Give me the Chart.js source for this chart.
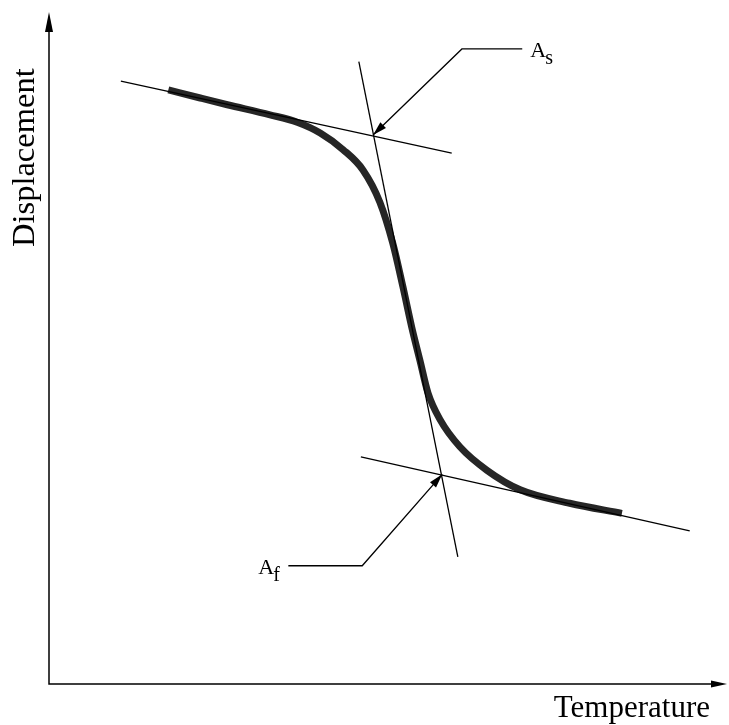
<!DOCTYPE html>
<html>
<head>
<meta charset="utf-8">
<title>Displacement vs Temperature</title>
<script src="https://cdn.jsdelivr.net/npm/chart.js@4.4.1/dist/chart.umd.min.js"></script>
<style>
  html, body { margin: 0; padding: 0; background: #fff; }
  #wrap { width: 729px; height: 725px; }
</style>
</head>
<body>
<div id="wrap"><canvas id="chart" width="729" height="725"></canvas></div>
<script>
// Axis ranges (arbitrary units, no ticks shown)
const tRange = [0, 100];
const dRange = [0, 100];

// Transformation curve: temperature / displacement
const curveT = [17.6, 22.3, 26.3, 32.6, 36.6, 40.0, 43.4, 46.3, 48.8, 50.7, 52.2, 53.5, 54.7, 55.9, 57.7, 60.6, 64.6, 69.5, 76.8, 84.5];
const curveD = [88.4, 87.2, 86.2, 84.7, 83.6, 82.0, 79.5, 76.5, 71.7, 65.6, 59.1, 53.1, 48.2, 43.3, 39.3, 35.3, 31.8, 28.9, 26.9, 25.4];

// Tangent construction lines
const upperTangentT = [10.6, 59.4];
const upperTangentD = [89.7, 79.0];
const steepTangentT = [45.7, 60.3];
const steepTangentD = [92.6, 18.9];
const lowerTangentT = [46.0, 94.5];
const lowerTangentD = [33.8, 22.8];

// Leader lines for the labels (last point = arrow tip)
const asLeaderT = [69.8, 60.9, 47.8];
const asLeaderD = [94.5, 94.5, 81.7];
const afLeaderT = [35.3, 46.2, 58.0];
const afLeaderD = [17.6, 17.6, 31.2];

const labelNames = ['A', 'A'];
const labelSubs = ['s', 'f'];

const axisTitles = { x: 'Temperature', y: 'Displacement' };

function toPoints(xs, ys) {
  return xs.map((x, i) => ({ x: x, y: ys[i] }));
}

function thinLine(xs, ys, extra) {
  return Object.assign({
    data: toPoints(xs, ys),
    showLine: true,
    borderColor: '#000',
    borderWidth: 1.3,
    pointRadius: 0,
    tension: 0
  }, extra || {});
}

function arrowHead(ctx, fx, fy, tx, ty, len, half) {
  const ang = Math.atan2(ty - fy, tx - fx);
  ctx.save();
  ctx.translate(tx, ty);
  ctx.rotate(ang);
  ctx.beginPath();
  ctx.moveTo(0, 0);
  ctx.lineTo(-len, -half);
  ctx.lineTo(-len, half);
  ctx.closePath();
  ctx.fill();
  ctx.restore();
}

// Axes with arrows, axis titles, and A_s / A_f labels
const sketchPlugin = {
  id: 'sketch',
  afterDatasetsDraw(chart) {
    const ctx = chart.ctx;
    const area = chart.chartArea;
    const xs = chart.scales.x;
    const ys = chart.scales.y;
    ctx.save();
    ctx.strokeStyle = '#000';
    ctx.fillStyle = '#000';
    ctx.lineWidth = 1.5;

    // axes
    ctx.beginPath();
    ctx.moveTo(area.left, area.top + 10);
    ctx.lineTo(area.left, area.bottom);
    ctx.lineTo(area.right - 10, area.bottom);
    ctx.stroke();
    arrowHead(ctx, area.left, area.bottom, area.left, area.top, 20, 4);
    arrowHead(ctx, area.left, area.bottom, area.right, area.bottom, 16, 3.5);

    // leader arrows
    [[asLeaderT, asLeaderD], [afLeaderT, afLeaderD]].forEach(([lt, ld]) => {
      const n = lt.length;
      arrowHead(ctx,
        xs.getPixelForValue(lt[n - 2]), ys.getPixelForValue(ld[n - 2]),
        xs.getPixelForValue(lt[n - 1]), ys.getPixelForValue(ld[n - 1]), 14, 4);
    });

    // axis titles
    ctx.font = '31px "Liberation Serif", "Times New Roman", serif';
    ctx.textBaseline = 'alphabetic';
    ctx.textAlign = 'right';
    ctx.fillText(axisTitles.x, area.right - 17, area.bottom + 33);
    ctx.save();
    ctx.font = '32.5px "Liberation Serif", "Times New Roman", serif';
    ctx.translate(area.left - 15, 247);
    ctx.rotate(-Math.PI / 2);
    ctx.textAlign = 'left';
    ctx.fillText(axisTitles.y, 0, 0);
    ctx.restore();

    // labels at start of leaders
    ctx.textAlign = 'left';
    const starts = [
      { t: asLeaderT[0], d: asLeaderD[0], dx: 8 },
      { t: afLeaderT[0], d: afLeaderD[0], dx: -30 }
    ];
    starts.forEach((s, i) => {
      const px = xs.getPixelForValue(s.t) + s.dx;
      const py = ys.getPixelForValue(s.d) + 8;
      ctx.font = '22px "Liberation Serif", "Times New Roman", serif';
      ctx.fillText(labelNames[i], px, py);
      const w = ctx.measureText(labelNames[i]).width;
      ctx.font = '20px "Liberation Serif", "Times New Roman", serif';
      ctx.fillText(labelSubs[i], px + w - 1, py + 7);
    });
    ctx.restore();
  }
};

new Chart(document.getElementById('chart'), {
  type: 'scatter',
  data: {
    datasets: [
      thinLine(upperTangentT, upperTangentD),
      thinLine(steepTangentT, steepTangentD),
      thinLine(lowerTangentT, lowerTangentD),
      thinLine(asLeaderT, asLeaderD),
      thinLine(afLeaderT, afLeaderD),
      {
        data: toPoints(curveT, curveD),
        showLine: true,
        borderColor: '#262626',
        borderWidth: 7,
        borderCapStyle: 'butt',
        pointRadius: 0,
        cubicInterpolationMode: 'monotone'
      }
    ]
  },
  options: {
    responsive: false,
    animation: false,
    layout: { padding: { left: 49, top: 12, right: 2, bottom: 41 } },
    plugins: { legend: { display: false }, tooltip: { enabled: false } },
    scales: {
      x: { type: 'linear', min: tRange[0], max: tRange[1], display: false },
      y: { type: 'linear', min: dRange[0], max: dRange[1], display: false }
    }
  },
  plugins: [sketchPlugin]
});
</script>
</body>
</html>
